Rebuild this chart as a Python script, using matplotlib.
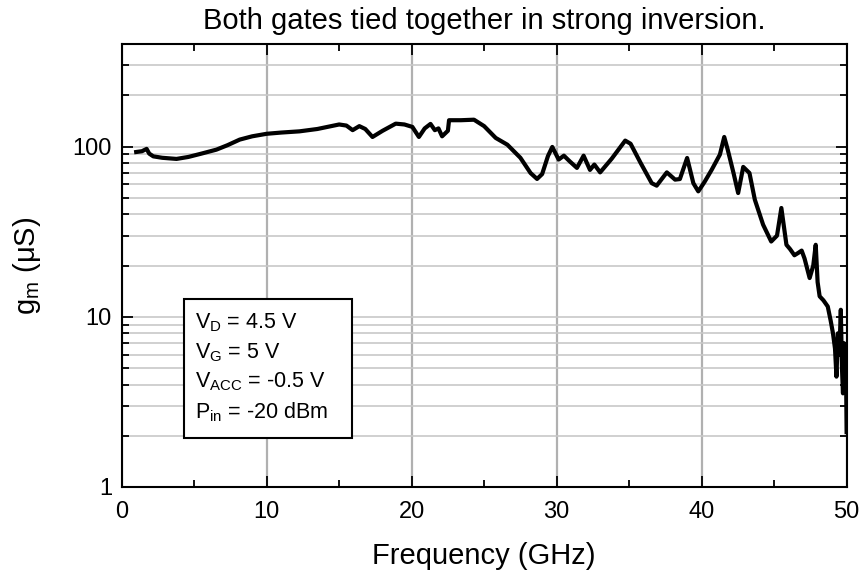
import numpy as np
import matplotlib.pyplot as plt
from matplotlib.ticker import LogLocator, MultipleLocator, NullFormatter, FixedLocator
from matplotlib.patches import Rectangle

plt.rcParams['font.family'] = ['Liberation Sans', 'DejaVu Sans']

freq = [1.0, 1.4, 1.72, 1.9, 2.18, 2.8, 3.78, 4.6, 5.5, 6.53, 7.3, 8.14, 9.0, 10.0,
        11.0, 12.26, 13.5, 15.0, 15.5, 15.93, 16.39, 16.8, 17.3, 18.0, 18.9, 19.5,
        20.05, 20.5, 20.9, 21.3, 21.6, 21.85, 22.1, 22.5, 22.58, 23.4, 24.3, 25.0,
        25.8, 26.6, 27.5, 28.2, 28.65, 29.0, 29.4, 29.7, 30.14, 30.5, 30.9, 31.4,
        31.86, 32.3, 32.6, 33.0, 33.8, 34.73, 35.1, 35.8, 36.56, 36.9, 37.6, 38.17,
        38.5, 39.0, 39.43, 39.77, 40.2, 40.69, 41.26, 41.56, 41.8, 42.2, 42.52,
        42.87, 43.3, 43.67, 44.24, 44.8, 45.2, 45.5, 45.85, 46.1, 46.4, 46.65,
        46.9, 47.1, 47.45, 47.7, 47.87, 48.0, 48.14, 48.4, 48.7, 48.9, 49.06,
        49.2, 49.3, 49.4, 49.5, 49.6, 49.68, 49.75, 49.82, 49.9, 49.95, 50.0]
gm = [93, 94, 97, 91, 87.7, 86, 84.7, 87, 91, 96, 102, 110, 115, 119,
      121, 123, 127, 135, 133, 125, 132, 127, 114, 124, 136.5, 135,
      130.6, 114, 128, 136, 125, 128, 115, 124, 143, 143, 144, 132,
      112.5, 102.7, 86, 70, 64.6, 69, 88, 99.6, 84, 88.5, 82, 75,
      88.5, 73, 78.5, 70.6, 85, 108.5, 104, 80, 61, 59, 70.6, 64,
      64.5, 85.8, 61, 54.6, 62, 73, 89.8, 114, 96, 70, 53.4,
      76, 70, 48.8, 34.8, 27.7, 30, 43.6, 26.5, 25, 23, 23.7,
      24.5, 22, 16.9, 20, 26.5, 16, 13.2, 12.5, 11.5, 9.5, 8,
      6.5, 4.45, 8, 6, 11, 5, 3.55, 7, 4, 6, 2.1]

fig = plt.figure(figsize=(8.63, 5.74), dpi=100)
ax = fig.add_axes([0.141, 0.1516, 0.840, 0.7714])

ax.plot(freq, gm, color='black', lw=3.0, solid_joinstyle='round')

ax.set_yscale('log')
ax.set_xlim(0, 50)
ax.set_ylim(1, 400)

ax.xaxis.set_major_locator(MultipleLocator(10))
ax.xaxis.set_minor_locator(MultipleLocator(5))
ax.yaxis.set_major_locator(FixedLocator([1, 10, 100]))
ax.yaxis.set_minor_locator(LogLocator(base=10, subs=np.arange(2, 10)))
ax.yaxis.set_minor_formatter(NullFormatter())
ax.set_yticklabels(['1', '10', '100'])

ax.grid(True, which='major', axis='x', color='#b0b0b0', lw=1.6)
ax.grid(True, which='both', axis='y', color='#c8c8c8', lw=1.2)
ax.set_axisbelow(True)

ax.tick_params(which='both', direction='in', top=True, right=True, labelsize=17, width=1.3)
ax.tick_params(which='major', length=8)
ax.tick_params(which='minor', length=5)
ax.tick_params(axis='x', which='major', pad=10)
ax.tick_params(axis='y', which='major', pad=7)
for s in ax.spines.values():
    s.set_linewidth(1.5)

ax.set_xlabel('Frequency (GHz)', fontsize=21, labelpad=14)
ax.set_ylabel(r'g$_\mathregular{m}$ ($\mathregular{\mu}$S)', fontsize=21, labelpad=21)
ax.set_title('Both gates tied together in strong inversion.', fontsize=21, pad=11)

# parameter box
ax.add_patch(Rectangle((0.0859, 0.1106), 0.2316, 0.3138, transform=ax.transAxes,
                       facecolor='white', edgecolor='black', lw=1.5, zorder=5))
txt = ('V$_\\mathregular{D}$ = 4.5 V\n'
       'V$_\\mathregular{G}$ = 5 V\n'
       'V$_\\mathregular{ACC}$ = -0.5 V\n'
       'P$_\\mathregular{in}$ = -20 dBm')
ax.text(0.101, 0.397, txt, transform=ax.transAxes, fontsize=15.5, linespacing=1.42,
        va='top', ha='left', zorder=6)

fig.savefig('out.png', dpi=100)
